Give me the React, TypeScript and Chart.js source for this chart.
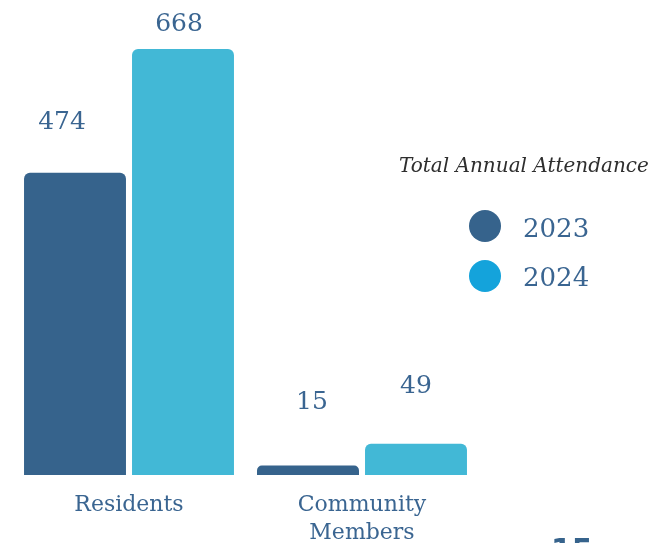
import React, { useEffect, useRef } from "react";
import { Chart, registerables } from "chart.js";
Chart.register(...registerables);

const categories = [["Residents"], ["Community", "Members"]];
const seriesNames = ["2023", "2024"];
const values2023 = [474, 15];
const values2024 = [668, 49];
const barColors = ["#36638c", "#42b8d6"];
const legendColors = ["#36638c", "#14a3db"];
const legendTitle = "Total Annual Attendance";
const pageMark = "15";
// label nudges in pixels (dx, dy above bar top)
const labelDx = [[-13, 4], [-4, 0]];
const labelDy = [[50, 63], [25, 57]];

const textColor = "#3a6591";
const serif = "'DejaVu Serif', 'Liberation Serif', serif";

const valueLabels = {
  id: "valueLabels",
  afterDatasetsDraw(chart: any) {
    const ctx = chart.ctx;
    ctx.save();
    ctx.font = `25px ${serif}`;
    ctx.fillStyle = textColor;
    ctx.textAlign = "center";
    ctx.textBaseline = "middle";
    chart.data.datasets.forEach((ds: any, di: number) => {
      const meta = chart.getDatasetMeta(di);
      meta.data.forEach((bar: any, i: number) => {
        ctx.fillText(String(ds.data[i]), bar.x + labelDx[di][i], bar.y - labelDy[di][i]);
      });
    });
    ctx.restore();
  },
};

export default function App() {
  const ref = useRef<HTMLCanvasElement | null>(null);
  useEffect(() => {
    if (!ref.current) return;
    const chart = new Chart(ref.current, {
      type: "bar",
      data: {
        labels: categories as any,
        datasets: [
          {
            label: seriesNames[0],
            data: values2023,
            backgroundColor: barColors[0],
            borderRadius: 6,
            borderSkipped: "start",
            categoryPercentage: 0.927,
            barPercentage: 0.944,
          },
          {
            label: seriesNames[1],
            data: values2024,
            backgroundColor: barColors[1],
            borderRadius: 6,
            borderSkipped: "start",
            categoryPercentage: 0.927,
            barPercentage: 0.944,
          },
        ],
      },
      options: {
        animation: false,
        responsive: true,
        maintainAspectRatio: false,
        layout: { padding: { top: 28.6, left: 12.5, right: 180.5, bottom: 0 } },
        plugins: { legend: { display: false }, tooltip: { enabled: false } },
        scales: {
          y: { display: false, min: 0, max: 700 },
          x: {
            grid: { display: false, drawTicks: false, tickLength: 0 },
            border: { display: false },
            ticks: {
              padding: 16,
              color: textColor,
              font: { family: serif, size: 22, lineHeight: 1.27 },
              maxRotation: 0,
              autoSkip: false,
            },
          },
        },
      },
      plugins: [valueLabels],
    });
    return () => chart.destroy();
  }, []);

  return (
    <div style={{ position: "fixed", left: 0, top: 0, width: 659, height: 563, background: "#fff" }}>
      <canvas ref={ref} />
      <div
        style={{
          position: "absolute",
          left: 399,
          top: 155,
          fontFamily: serif,
          fontStyle: "italic",
          fontSize: 20,
          lineHeight: 1,
          color: "#2e2e2e",
          whiteSpace: "nowrap",
        }}
      >
        {legendTitle}
      </div>
      {seriesNames.map((name, i) => (
        <React.Fragment key={name}>
          <div
            style={{
              position: "absolute",
              left: 484.5 - 16,
              top: 226 + i * 50 - 16,
              width: 32,
              height: 32,
              borderRadius: "50%",
              background: legendColors[i],
            }}
          />
          <div
            style={{
              position: "absolute",
              left: 523,
              top: 215 + i * 49,
              fontFamily: serif,
              fontSize: 26,
              lineHeight: 1,
              color: textColor,
            }}
          >
            {name}
          </div>
        </React.Fragment>
      ))}
      <div
        style={{
          position: "absolute",
          left: 551,
          top: 534.5,
          fontFamily: "'DejaVu Sans', sans-serif",
          fontWeight: "bold",
          fontSize: 30,
          lineHeight: 1,
          color: "#36638c",
        }}
      >
        {pageMark}
      </div>
    </div>
  );
}
